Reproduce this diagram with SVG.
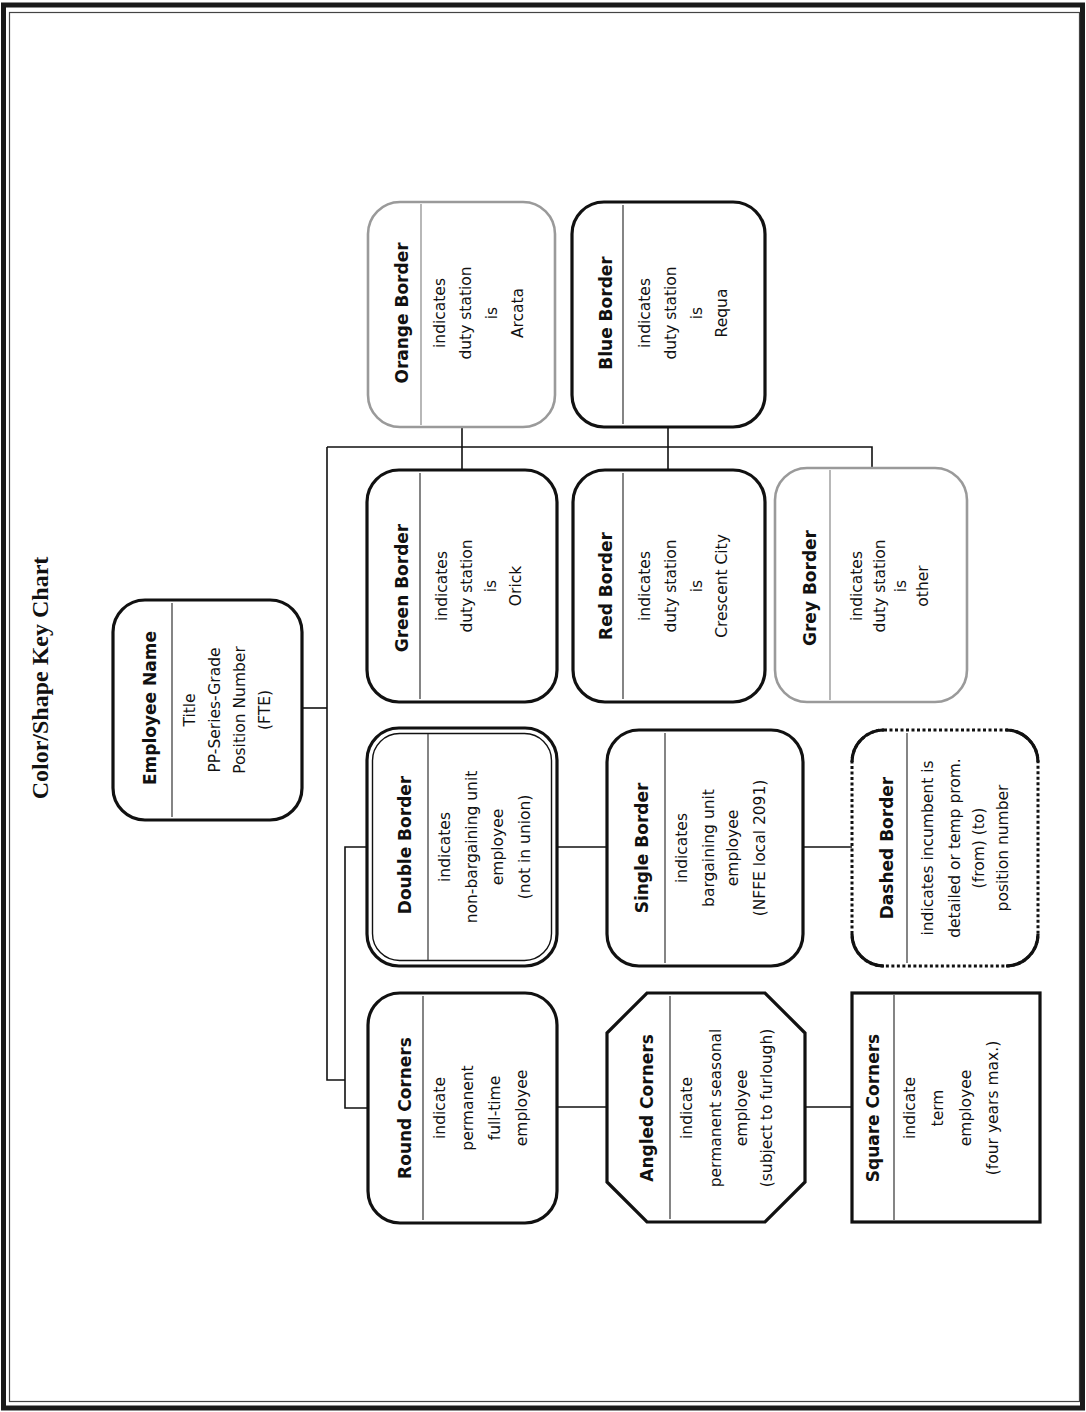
<svg xmlns="http://www.w3.org/2000/svg" width="1086" height="1412" viewBox="0 0 1086 1412">
  <style>
    .page-outer { fill: none; stroke: #1a1a1a; stroke-width: 5; }
    .page-inner { fill: none; stroke: #444; stroke-width: 1.2; }
    .title { font-family: "Liberation Serif", "Times New Roman", serif; font-weight: bold; font-size: 24px; fill: #111; text-anchor: middle; dominant-baseline: central; }
    .box { fill: #fff; stroke: #111; stroke-width: 3.2; }
    .box-grey { fill: #fff; stroke: #9a9a9a; stroke-width: 2.6; }
    .box-dash { fill: #fff; stroke: #111; stroke-width: 3; stroke-dasharray: 3 2.5; }
    .corner { fill: none; stroke: #111; stroke-width: 3.2; }
    .inner { fill: none; stroke: #111; stroke-width: 1.4; }
    .sep { stroke: #333; stroke-width: 1.2; }
    .sep-grey { stroke: #888; stroke-width: 1.2; }
    .h { font-family: "DejaVu Sans", "Liberation Sans", sans-serif; font-weight: bold; font-size: 17px; fill: #111; text-anchor: middle; dominant-baseline: central; }
    .b { font-family: "DejaVu Sans", "Liberation Sans", sans-serif; font-size: 15.5px; fill: #111; text-anchor: middle; dominant-baseline: central; }
    .conn { fill: none; stroke: #111; stroke-width: 1.6; }
  </style>

  <!-- page frame -->
  <rect class="page-outer" x="3.5" y="5" width="1079" height="1403"/>
  <rect class="page-inner" x="9.5" y="12.5" width="1070" height="1389"/>

  <!-- heading -->
  <text class="title" transform="translate(40 678) rotate(-90)">Color/Shape Key Chart</text>

  <!-- connectors -->
  <g id="connectors" class="conn">
    <path d="M302 708 H327"/>
    <path d="M327 447 V1080 H345"/>
    <path d="M327 447 H872 V468"/>
    <path d="M462 427 V470"/>
    <path d="M668 427 V470"/>
    <path d="M367 847 H345 V1108 H368"/>
    <path d="M557 847 H607"/>
    <path d="M803 847 H852"/>
    <path d="M557 1107 H607"/>
    <path d="M805 1107 H852"/>
  </g>

  <!-- Employee Name -->
  <g id="employee-name">
    <rect class="box" x="113" y="600" width="189" height="220" rx="32"/>
    <line class="sep" x1="172" y1="603" x2="172" y2="817"/>
    <text class="h" transform="translate(150 708) rotate(-90)">Employee Name</text>
    <text class="b" transform="translate(190 710) rotate(-90)">Title</text>
    <text class="b" transform="translate(215 710) rotate(-90)">PP-Series-Grade</text>
    <text class="b" transform="translate(240 710) rotate(-90)">Position Number</text>
    <text class="b" transform="translate(265 710) rotate(-90)">(FTE)</text>
  </g>

  <!-- Orange Border -->
  <g id="orange-border">
    <rect class="box-grey" x="368" y="202" width="187" height="225" rx="32"/>
    <line class="sep-grey" x1="421" y1="204" x2="421" y2="425"/>
    <text class="h" transform="translate(402 313) rotate(-90)">Orange Border</text>
    <text class="b" transform="translate(440 313) rotate(-90)">indicates</text>
    <text class="b" transform="translate(466 313) rotate(-90)">duty station</text>
    <text class="b" transform="translate(492 313) rotate(-90)">is</text>
    <text class="b" transform="translate(518 313) rotate(-90)">Arcata</text>
  </g>

  <!-- Blue Border -->
  <g id="blue-border">
    <rect class="box" x="572" y="202" width="193" height="225" rx="32"/>
    <line class="sep" x1="623" y1="205" x2="623" y2="424"/>
    <text class="h" transform="translate(606 313) rotate(-90)">Blue Border</text>
    <text class="b" transform="translate(645 313) rotate(-90)">indicates</text>
    <text class="b" transform="translate(671 313) rotate(-90)">duty station</text>
    <text class="b" transform="translate(697 313) rotate(-90)">is</text>
    <text class="b" transform="translate(722 313) rotate(-90)">Requa</text>
  </g>

  <!-- Green Border -->
  <g id="green-border">
    <rect class="box" x="367" y="470" width="190" height="232" rx="32"/>
    <line class="sep" x1="420" y1="473" x2="420" y2="699"/>
    <text class="h" transform="translate(402 588) rotate(-90)">Green Border</text>
    <text class="b" transform="translate(442 586) rotate(-90)">indicates</text>
    <text class="b" transform="translate(467 586) rotate(-90)">duty station</text>
    <text class="b" transform="translate(491 586) rotate(-90)">is</text>
    <text class="b" transform="translate(516 586) rotate(-90)">Orick</text>
  </g>

  <!-- Red Border -->
  <g id="red-border">
    <rect class="box" x="573" y="470" width="192" height="232" rx="32"/>
    <line class="sep" x1="623" y1="473" x2="623" y2="699"/>
    <text class="h" transform="translate(606 586) rotate(-90)">Red Border</text>
    <text class="b" transform="translate(645 586) rotate(-90)">indicates</text>
    <text class="b" transform="translate(671 586) rotate(-90)">duty station</text>
    <text class="b" transform="translate(697 586) rotate(-90)">is</text>
    <text class="b" transform="translate(722 586) rotate(-90)">Crescent City</text>
  </g>

  <!-- Grey Border -->
  <g id="grey-border">
    <rect class="box-grey" x="775" y="468" width="192" height="234" rx="32"/>
    <line class="sep-grey" x1="830" y1="470" x2="830" y2="700"/>
    <text class="h" transform="translate(810 588) rotate(-90)">Grey Border</text>
    <text class="b" transform="translate(857 586) rotate(-90)">indicates</text>
    <text class="b" transform="translate(880 586) rotate(-90)">duty station</text>
    <text class="b" transform="translate(901 586) rotate(-90)">is</text>
    <text class="b" transform="translate(923 586) rotate(-90)">other</text>
  </g>

  <!-- Double Border -->
  <g id="double-border">
    <rect class="box" x="367" y="728" width="190" height="238" rx="32"/>
    <rect class="inner" x="372.5" y="733.5" width="179" height="227" rx="27"/>
    <line class="sep" x1="428" y1="734" x2="428" y2="960"/>
    <text class="h" transform="translate(405 845) rotate(-90)">Double Border</text>
    <text class="b" transform="translate(445 847) rotate(-90)">indicates</text>
    <text class="b" transform="translate(472 847) rotate(-90)">non-bargaining unit</text>
    <text class="b" transform="translate(498 847) rotate(-90)">employee</text>
    <text class="b" transform="translate(525 847) rotate(-90)">(not in union)</text>
  </g>

  <!-- Single Border -->
  <g id="single-border">
    <rect class="box" x="607" y="730" width="196" height="236" rx="32"/>
    <line class="sep" x1="665" y1="733" x2="665" y2="963"/>
    <text class="h" transform="translate(642 848) rotate(-90)">Single Border</text>
    <text class="b" transform="translate(682 848) rotate(-90)">indicates</text>
    <text class="b" transform="translate(709 848) rotate(-90)">bargaining unit</text>
    <text class="b" transform="translate(733 848) rotate(-90)">employee</text>
    <text class="b" transform="translate(760 848) rotate(-90)">(NFFE local 2091)</text>
  </g>

  <!-- Dashed Border: dotted sides, solid rounded corners -->
  <g id="dashed-border">
    <rect class="box-dash" x="852" y="730" width="186" height="236" rx="32"/>
    <path class="corner" d="M852 762 A32 32 0 0 1 884 730 M1006 730 A32 32 0 0 1 1038 762 M1038 934 A32 32 0 0 1 1006 966 M884 966 A32 32 0 0 1 852 934"/>
    <line class="sep" x1="907" y1="733" x2="907" y2="963"/>
    <text class="h" transform="translate(887 848) rotate(-90)">Dashed Border</text>
    <text class="b" transform="translate(928 848) rotate(-90)">indicates incumbent is</text>
    <text class="b" transform="translate(955 848) rotate(-90)">detailed or temp prom.</text>
    <text class="b" transform="translate(979 848) rotate(-90)">(from) (to)</text>
    <text class="b" transform="translate(1003 848) rotate(-90)">position number</text>
  </g>

  <!-- Round Corners -->
  <g id="round-corners">
    <rect class="box" x="368" y="993" width="189" height="230" rx="32"/>
    <line class="sep" x1="423" y1="996" x2="423" y2="1220"/>
    <text class="h" transform="translate(405 1108) rotate(-90)">Round Corners</text>
    <text class="b" transform="translate(440 1108) rotate(-90)">indicate</text>
    <text class="b" transform="translate(468 1108) rotate(-90)">permanent</text>
    <text class="b" transform="translate(495 1108) rotate(-90)">full-time</text>
    <text class="b" transform="translate(522 1108) rotate(-90)">employee</text>
  </g>

  <!-- Angled Corners -->
  <g id="angled-corners">
    <polygon class="box" points="647,993 765,993 805,1033 805,1182 765,1222 647,1222 607,1182 607,1033"/>
    <line class="sep" x1="670" y1="996" x2="670" y2="1219"/>
    <text class="h" transform="translate(647 1108) rotate(-90)">Angled Corners</text>
    <text class="b" transform="translate(687 1108) rotate(-90)">indicate</text>
    <text class="b" transform="translate(716 1108) rotate(-90)">permanent seasonal</text>
    <text class="b" transform="translate(742 1108) rotate(-90)">employee</text>
    <text class="b" transform="translate(767 1108) rotate(-90)">(subject to furlough)</text>
  </g>

  <!-- Square Corners -->
  <g id="square-corners">
    <rect class="box" x="852" y="993" width="188" height="229" stroke-width="3.6"/>
    <line class="sep" x1="894" y1="995" x2="894" y2="1220"/>
    <text class="h" transform="translate(873 1108) rotate(-90)">Square Corners</text>
    <text class="b" transform="translate(910 1108) rotate(-90)">indicate</text>
    <text class="b" transform="translate(938 1108) rotate(-90)">term</text>
    <text class="b" transform="translate(966 1108) rotate(-90)">employee</text>
    <text class="b" transform="translate(993 1108) rotate(-90)">(four years max.)</text>
  </g>
</svg>
